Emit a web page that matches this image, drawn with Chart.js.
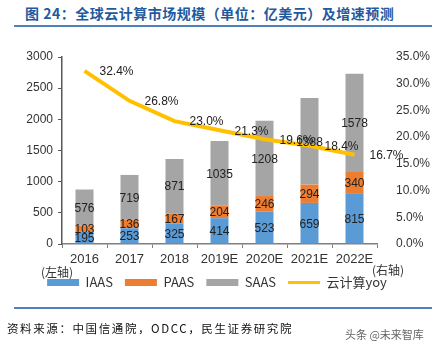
<!DOCTYPE html>
<html>
<head>
<meta charset="utf-8">
<script src="https://cdn.jsdelivr.net/npm/chart.js@4"></script>
<style>
  body { margin: 0; background: #fff; }
  #wrap { position: relative; width: 434px; height: 349px; overflow: hidden; font-family: "Liberation Sans", Arial, sans-serif; }
  #chart { position: absolute; left: 0; top: 0; }
  .title { position: absolute; left: 25px; top: 3px; font: bold 14px "Noto Sans CJK SC", sans-serif; letter-spacing: 0.5px; color: #1f5a9e; white-space: nowrap; }
  .rule { position: absolute; left: 14px; width: 418px; height: 2px; background: #4f81bd; }
  .note { position: absolute; font: 12px "Noto Sans CJK SC", sans-serif; color: #333; }
  .src { position: absolute; left: 7px; top: 320px; font: 11.5px "Noto Sans CJK SC", serif; letter-spacing: 1.6px; color: #111; white-space: nowrap; }
  .wm { position: absolute; left: 345px; top: 326px; font: 11px "Noto Sans CJK SC", sans-serif; color: #666; }
</style>
</head>
<body>
<div id="wrap">
  <div class="title">图 24：全球云计算市场规模（单位：亿美元）及增速预测</div>
  <div class="rule" style="top:25px"></div>
  <canvas id="chart" width="434" height="349"></canvas>
  <div class="note" style="left:41px; top:263px">(左轴)</div>
  <div class="note" style="left:372px; top:261px">(右轴)</div>
  <div class="rule" style="top:307px"></div>
  <div class="src">资料来源：中国信通院，ODCC，民生证券研究院</div>
  <div class="wm">头条 @未来智库</div>
</div>
<script>
// Chart values
const years = ['2016', '2017', '2018', '2019E', '2020E', '2021E', '2022E'];
const iaas = [195, 253, 325, 414, 523, 659, 815];
const paas = [103, 136, 167, 204, 246, 294, 340];
const saas = [576, 719, 871, 1035, 1208, 1388, 1578];
const yoy = [32.4, 26.8, 23.0, 21.3, 19.6, 18.4, 16.7];

const tickFont = { family: '"Liberation Sans", Arial, sans-serif', size: 12 };

// Draw value labels inside the bars and next to the line points
const valueLabels = {
  id: 'valueLabels',
  afterDatasetsDraw(chart) {
    const ctx = chart.ctx;
    ctx.save();
    ctx.font = '12px "Liberation Sans", Arial, sans-serif';
    ctx.fillStyle = '#222';
    chart.data.datasets.forEach((ds, i) => {
      const meta = chart.getDatasetMeta(i);
      meta.data.forEach((el, j) => {
        if (ds.type === 'line') {
          ctx.textAlign = 'left';
          ctx.textBaseline = 'middle';
          ctx.fillText(ds.data[j].toFixed(1) + '%', el.x + 15, el.y + 1);
        } else {
          ctx.textAlign = 'center';
          ctx.textBaseline = 'middle';
          ctx.fillText(ds.data[j], el.x, (el.y + el.base) / 2 + 1);
        }
      });
    });
    ctx.restore();
  }
};

const ctx = document.getElementById('chart').getContext('2d');
const chart = new Chart(ctx, {
  data: {
    labels: years,
    datasets: [
      { type: 'line', label: '云计算yoy', data: yoy, yAxisID: 'y1', borderColor: '#ffc000', backgroundColor: '#ffc000',
        borderWidth: 4, pointRadius: 0, tension: 0, order: 0 },
      { type: 'bar', label: 'IAAS', data: iaas, backgroundColor: '#5b9bd5', stack: 's', order: 1 },
      { type: 'bar', label: 'PAAS', data: paas, backgroundColor: '#ed7d31', stack: 's', order: 1 },
      { type: 'bar', label: 'SAAS', data: saas, backgroundColor: '#a5a5a5', stack: 's', order: 1 }
    ]
  },
  options: {
    responsive: false,
    animation: false,
    layout: { padding: { top: 57, bottom: 50, left: 0, right: 0 } },
    datasets: { bar: { barPercentage: 0.4, categoryPercentage: 1 } },
    plugins: {
      tooltip: { enabled: false },
      legend: {
        position: 'bottom',
        labels: {
          usePointStyle: true, pointStyleWidth: 32, boxHeight: 7, padding: 12,
          font: { family: '"Noto Sans CJK SC", "Liberation Sans", sans-serif', size: 13 },
          color: '#333',
          generateLabels: c => Chart.defaults.plugins.legend.labels.generateLabels(c).map(item => {
            const isLine = c.data.datasets[item.datasetIndex].type === 'line';
            item.pointStyle = isLine ? 'line' : 'rect';
            item.lineWidth = isLine ? 3 : 0;
            return item;
          }),
          sort: (a, b) => (a.datasetIndex === 0 ? 1 : 0) - (b.datasetIndex === 0 ? 1 : 0)
        }
      }
    },
    scales: {
      x: {
        stacked: true,
        grid: { display: true, drawOnChartArea: false, offset: true, tickLength: 4, color: '#7f7f7f' },
        border: { color: '#7f7f7f', width: 1.5 },
        ticks: { font: { ...tickFont, size: 13 }, color: '#333', padding: 4 },
        afterFit: s => { s.height = 20; }
      },
      y: {
        stacked: true, min: 0, max: 3000,
        ticks: { stepSize: 500, font: tickFont, color: '#333', padding: 5, callback: v => String(v) },
        grid: { drawOnChartArea: false, tickLength: 4, color: '#595959' },
        border: { color: '#595959', width: 1.5 },
        afterFit: s => { s.width = 62; }
      },
      y1: {
        position: 'right', min: 0, max: 35,
        ticks: { stepSize: 5, font: tickFont, color: '#333', padding: 11, callback: v => v.toFixed(1) + '%' },
        grid: { display: false },
        border: { display: false },
        afterFit: s => { s.width = 57; }
      }
    }
  },
  plugins: [valueLabels]
});
</script>
</body>
</html>
